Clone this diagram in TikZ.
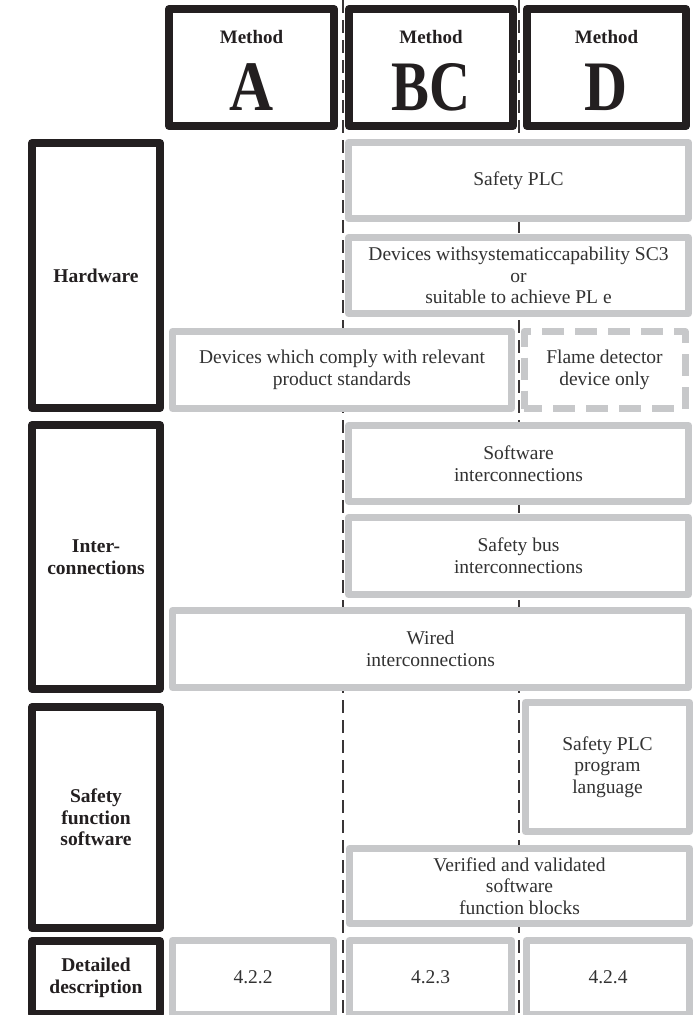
\documentclass[tikz,border=0pt]{standalone}
\usepackage{fontspec}
\setmainfont{Liberation Serif}
\usepackage{graphicx}
\definecolor{boxgray}{RGB}{199,200,202}
\definecolor{boxblack}{RGB}{35,31,32}
\definecolor{txtgray}{RGB}{50,50,50}
\begin{document}
\begin{tikzpicture}[x=1pt,y=-1pt,
  every node/.style={inner sep=0pt, outer sep=0pt},
  bodytext/.style={font=\fontsize{19.5}{21.7}\selectfont, text=txtgray, align=center},
  catbox/.style={draw=boxblack, line width=8pt, line join=round, fill=white,
    font=\bfseries\fontsize{19.5}{21.7}\selectfont, text=boxblack, align=center,
    minimum width=128pt},
  methodbox/.style={draw=boxblack, line width=8pt, line join=round, fill=white,
    minimum height=117pt},
  methodword/.style={anchor=base, font=\bfseries\fontsize{19}{21}\selectfont, text=boxblack},
  methodletter/.style={anchor=base, font=\bfseries\fontsize{71}{71}\selectfont, text=boxblack},
  itembox/.style={draw=boxgray, line width=7pt, line join=round, fill=white, bodytext},
  optbox/.style={itembox, dash pattern=on 22pt off 11pt, dash phase=4pt},
  guide/.style={draw=boxblack!90, line width=1.2pt, dash pattern=on 13pt off 7pt}
]
\useasboundingbox (0,0) rectangle (694,1015);
\clip (0,0) rectangle (694,1015);

% column separators
\coordinate (g1top) at (343,0);
\coordinate (g1bot) at (343,1015);
\coordinate (g2top) at (519,0);
\coordinate (g2bot) at (519,1015);
\draw[guide] (g1top) -- (g1bot);
\draw[guide] (g2top) -- (g2bot);

% method headers
\node[methodbox, minimum width=165pt] (mA)  at (251.5,67.5) {};
\node[methodbox, minimum width=164pt] (mBC) at (431,67.5) {};
\node[methodbox, minimum width=159pt] (mD)  at (606.5,67.5) {};
\node[methodword] (wA)  at (251.5,43) {Method};
\node[methodword] (wBC) at (431,43) {Method};
\node[methodword] (wD)  at (606.5,43) {Method};
\node[methodletter] (lA)  at (251.5,110) {\scalebox{0.86}[1]{A}};
\node[methodletter] (lBC) at (431,110) {\scalebox{0.8}[1]{BC}};
\node[methodletter] (lD)  at (606.5,110) {\scalebox{0.84}[1]{D}};

% category column
\node[catbox, minimum height=265pt] (hw)  at (96,275.5) {Hardware};
\node[catbox, minimum height=264pt] (ic)  at (96,557) {Inter-\\connections};
\node[catbox, minimum height=221pt] (sfs) at (96,817.5) {Safety\\function\\software};
\node[catbox, minimum height=73pt]  (dd)  at (96,977.5) {Detailed\\description};

% hardware
\node[itembox, minimum width=340pt, minimum height=76pt] (splc) at (518.5,180.5) {Safety PLC};
\node[itembox, minimum width=340pt, minimum height=76pt] (sc3) at (518.5,275.5)
  {Devices withsystematiccapability SC3\\or\\suitable to achieve PL e};
\node[itembox, minimum width=339pt, minimum height=77pt] (comply) at (342,370)
  {Devices which comply with relevant\\product standards};
\node[optbox, minimum width=161pt, minimum height=77pt] (flame) at (604.5,370)
  {Flame detector\\device only};

% interconnections
\node[itembox, minimum width=340pt, minimum height=76pt] (swi) at (518.5,463.5)
  {Software\\interconnections};
\node[itembox, minimum width=340pt, minimum height=77pt] (sbus) at (518.5,556)
  {Safety bus\\interconnections};
\node[itembox, minimum width=516pt, minimum height=77pt] (wired) at (430.5,649)
  {Wired\\interconnections};

% safety function software
\node[itembox, minimum width=164pt, minimum height=129pt] (plcprog) at (607.5,767)
  {Safety PLC\\program\\language};
\node[itembox, minimum width=340pt, minimum height=75pt] (verif) at (519.5,886)
  {Verified and validated\\software\\function blocks};

% detailed description
\node[itembox, minimum width=161pt, minimum height=74pt] (d422) at (253,977.5) {4.2.2};
\node[itembox, minimum width=162pt, minimum height=74pt] (d423) at (430.5,977.5) {4.2.3};
\node[itembox, minimum width=163pt, minimum height=74pt] (d424) at (608,977.5) {4.2.4};
\end{tikzpicture}
\end{document}
